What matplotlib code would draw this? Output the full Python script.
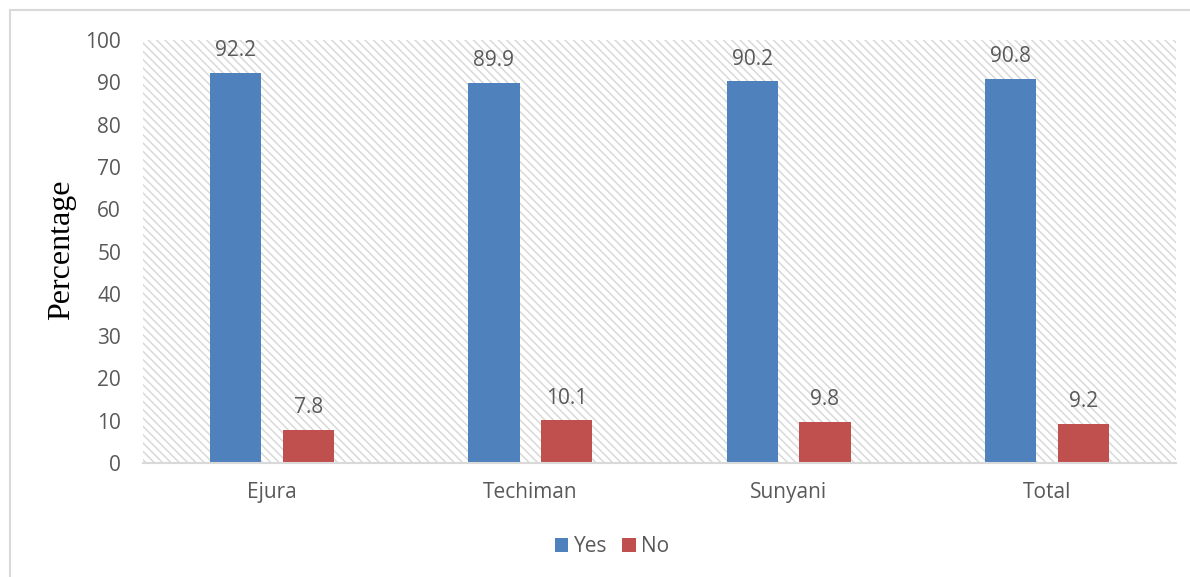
import matplotlib
matplotlib.use("Agg")
import matplotlib.pyplot as plt
from matplotlib.patches import Rectangle
from matplotlib.lines import Line2D
import numpy as np

categories = ["Ejura", "Techiman", "Sunyani", "Total"]
yes_values = [92.2, 89.9, 90.2, 90.8]
no_values = [7.8, 10.1, 9.8, 9.2]
y_ticks = [0, 10, 20, 30, 40, 50, 60, 70, 80, 90, 100]

BLUE = "#4F81BD"
RED = "#C0504D"
TEXT = "#595959"
GRID = "#d9d9d9"
FS = 15

plt.rcParams["font.family"] = ["Open Sans", "DejaVu Sans"]
plt.rcParams["hatch.linewidth"] = 1.1

W, H = 1190, 577
fig = plt.figure(figsize=(W / 100, H / 100), dpi=100)
ax = fig.add_axes([143 / W, 1 - 463 / H, (1176 - 143) / W, (463 - 40) / H])

# hatched plot-area background
ax.add_patch(Rectangle((0, 0), 1, 1, transform=ax.transAxes, facecolor="white",
                       edgecolor=GRID, hatch="\\\\\\\\", linewidth=0, zorder=0))

x = np.arange(len(categories))
bw = 0.198
off = 0.141
b1 = ax.bar(x - off, yes_values, bw, color=BLUE, zorder=2, label="Yes")
b2 = ax.bar(x + off, no_values, bw, color=RED, zorder=2, label="No")

for bars, vals in ((b1, yes_values), (b2, no_values)):
    for rect, v in zip(bars, vals):
        ax.annotate(f"{v:.1f}", (rect.get_x() + rect.get_width() / 2, v),
                    xytext=(0, 12), textcoords="offset points",
                    ha="center", va="baseline", fontsize=FS, color=TEXT)

ax.set_xlim(-0.5, len(categories) - 0.5)
ax.set_ylim(0, 100)
ax.set_yticks(y_ticks)
ax.set_xticks(x)
ax.set_xticklabels(categories)
ax.tick_params(axis="both", length=0, labelsize=FS, labelcolor=TEXT)
ax.tick_params(axis="y", pad=15.8)
ax.tick_params(axis="x", pad=14)
for s in ("top", "right", "left"):
    ax.spines[s].set_visible(False)
ax.spines["bottom"].set_color(GRID)
ax.spines["bottom"].set_linewidth(1.5)
ax.spines["bottom"].set_zorder(3)

fig.text(62 / W, 1 - 250 / H, "Percentage", rotation=90, ha="center", va="center",
         fontsize=23, family="Liberation Serif", color="black")

# chart frame
fig.add_artist(Line2D([10 / W, 10 / W], [0, 1 - 10 / H], color=GRID, lw=1.5,
                      transform=fig.transFigure))
fig.add_artist(Line2D([10 / W, 1], [1 - 10 / H, 1 - 10 / H], color=GRID, lw=1.5,
                      transform=fig.transFigure))

fig.legend(handles=[b1, b2], labels=["Yes", "No"], loc="center",
           bbox_to_anchor=(612 / W, 1 - 547 / H), ncol=2, frameon=False,
           fontsize=FS, labelcolor=TEXT, handlelength=0.67, handleheight=0.67,
           handletextpad=0.25, columnspacing=0.72)

fig.savefig("out.png", dpi=100, facecolor="white")
